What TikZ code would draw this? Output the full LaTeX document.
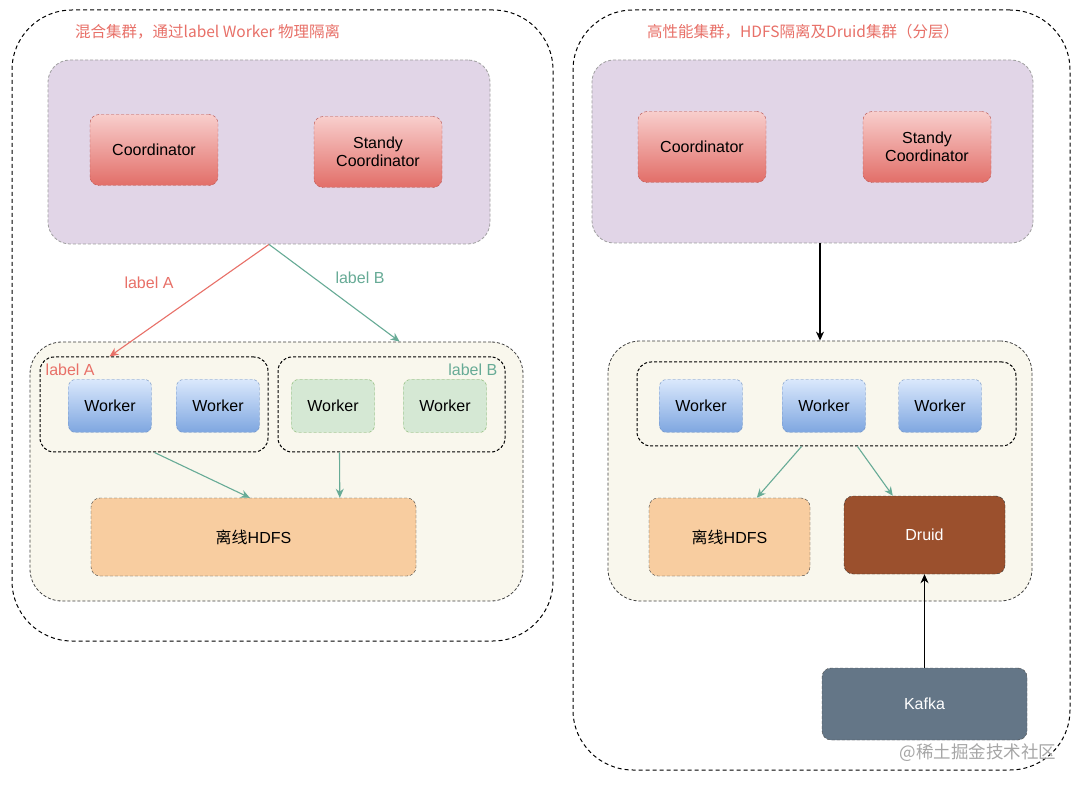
\documentclass[tikz,border=0pt]{standalone}
\usepackage{fontspec}
\setmainfont{Liberation Sans}
\newfontfamily\cjk{Noto Sans CJK SC}
\usepackage{tikz}
\usetikzlibrary{shapes, arrows, arrows.meta, calc, positioning}

\definecolor{titlered}{RGB}{232,112,104}
\definecolor{labelgreen}{RGB}{103,171,150}
\definecolor{purplefill}{RGB}{225,213,231}
\definecolor{containerfill}{RGB}{249,247,237}
\definecolor{coordtop}{RGB}{248,206,204}
\definecolor{coordbot}{RGB}{226,110,104}
\definecolor{coordline}{RGB}{184,84,80}
\definecolor{workertop}{RGB}{218,232,252}
\definecolor{workerbot}{RGB}{126,166,224}
\definecolor{workerline}{RGB}{108,142,191}
\definecolor{greenfill}{RGB}{213,232,212}
\definecolor{greenline}{RGB}{130,179,102}
\definecolor{hdfsfill}{RGB}{248,205,160}
\definecolor{druidfill}{RGB}{155,80,45}
\definecolor{kafkafill}{RGB}{100,118,135}

\begin{document}
\begin{tikzpicture}[x=1pt, y=-1pt, >={Stealth[length=9pt, width=8pt]}, font=\fontsize{16}{18.5}\selectfont]
	\tikzstyle{outer} = [draw, line width=1pt, dash pattern=on 4pt off 3pt, rounded corners=60pt, inner sep=0pt]
	\tikzstyle{panel} = [draw=gray!75, fill=purplefill, line width=0.8pt, dash pattern=on 3pt off 2pt, rounded corners=22pt, inner sep=0pt]
	\tikzstyle{container} = [draw=black!75, fill=containerfill, line width=0.8pt, dash pattern=on 3pt off 2pt, rounded corners=32pt, inner sep=0pt]
	\tikzstyle{group} = [draw, line width=1pt, dash pattern=on 3pt off 2pt, rounded corners=14pt, inner sep=0pt]
	\tikzstyle{coord} = [draw=coordline, top color=coordtop, bottom color=coordbot, dash pattern=on 3pt off 2pt, rounded corners=9pt, minimum width=128pt, minimum height=71pt, align=center, inner sep=2pt]
	\tikzstyle{worker} = [draw=workerline, top color=workertop, bottom color=workerbot, dash pattern=on 3pt off 2pt, rounded corners=7pt, minimum width=83pt, minimum height=53pt, inner sep=2pt]
	\tikzstyle{workerb} = [worker, draw=greenline, fill=greenfill, top color=greenfill, bottom color=greenfill]
	\tikzstyle{store} = [draw=black!75, dash pattern=on 3pt off 2pt, rounded corners=9pt, inner sep=2pt]
	\tikzstyle{title} = [text=titlered, anchor=west, inner sep=0pt, font=\cjk\fontsize{15.5}{18}\selectfont]

	\useasboundingbox[fill=white] (0,0) rectangle (1080,786);

	% left cluster
	\node[outer, minimum width=541pt, minimum height=631pt] (ol) at (282.5,325.5) {};
	\node[title] (tl) at (75,32) {混合集群，通过label Worker 物理隔离};
	\node[panel, minimum width=442pt, minimum height=184pt] (pl) at (269,152) {};
	\node[coord] (cl) at (154,150) {Coordinator};
	\node[coord] (sl) at (378,152) {Standy\\Coordinator};

	\node[container, minimum width=493pt, minimum height=259pt] (kl) at (276.5,471.5) {};
	\node[group, minimum width=228pt, minimum height=95pt] (ga) at (154,404.5) {};
	\node[group, minimum width=227pt, minimum height=95pt] (gb) at (391.5,404.5) {};
	\node[text=titlered, anchor=west, inner sep=0pt] (la) at ([xshift=6pt, yshift=-13pt]ga.north west) {label A};
	\node[text=labelgreen, anchor=east, inner sep=0pt] (lb) at ([xshift=-8pt, yshift=-13pt]gb.north east) {label B};
	\node[worker] (wa1) at (110,406) {Worker};
	\node[worker] (wa2) at (218,406) {Worker};
	\node[workerb] (wb1) at (333,406) {Worker};
	\node[workerb] (wb2) at (445,406) {Worker};
	\node[store, fill=hdfsfill, minimum width=325pt, minimum height=78pt] (hl) at (253.5,537) {{\cjk 离线}HDFS};

	\draw[->, titlered, line width=1.1pt] (pl.south) -- ([xshift=70pt]ga.north west);
	\draw[->, labelgreen, line width=1.1pt] (pl.south) -- ([xshift=370pt]kl.north west);
	\node[text=titlered] (ea) at (149,283) {label A};
	\node[text=labelgreen] (eb) at (360,278) {label B};
	\draw[->, labelgreen, line width=1.1pt] ([xshift=115pt]ga.south west) -- ([xshift=159pt]hl.north west);
	\draw[->, labelgreen, line width=1.1pt] ([xshift=62pt]gb.south west) -- ([xshift=249pt]hl.north west);

	% right cluster
	\node[outer, minimum width=497pt, minimum height=760pt] (or) at (821.5,390) {};
	\node[title] (tr) at (647,32) {高性能集群，HDFS隔离及Druid集群（分层）};
	\node[panel, minimum width=441pt, minimum height=183pt] (pr) at (812.5,151.5) {};
	\node[coord] (cr) at (702,147) {Coordinator};
	\node[coord] (sr) at (927,147) {Standy\\Coordinator};

	\node[container, minimum width=424pt, minimum height=260pt] (kr) at (820,471) {};
	\node[group, minimum width=379pt, minimum height=84pt] (gr) at (826.5,404) {};
	\node[worker] (wr1) at (701,406) {Worker};
	\node[worker] (wr2) at (824,406) {Worker};
	\node[worker] (wr3) at (940,406) {Worker};
	\node[store, fill=hdfsfill, minimum width=161pt, minimum height=78pt] (hr) at (729.5,537) {{\cjk 离线}HDFS};
	\node[store, draw=black!80, fill=druidfill, text=white, minimum width=161pt, minimum height=78pt] (dr) at (924.5,535) {Druid};
	\node[store, draw=black!70, fill=kafkafill, text=white, minimum width=205pt, minimum height=72pt] (kf) at (924.5,704) {Kafka};

	\draw[->, line width=1.1pt] (pr.south -| kr.north) -- (kr.north);
	\draw[->, labelgreen, line width=1.1pt] ([xshift=165pt]gr.south west) -- ([xshift=108pt]hr.north west);
	\draw[->, labelgreen, line width=1.1pt] ([xshift=221pt]gr.south west) -- ([xshift=49pt]dr.north west);
	\draw[->, line width=1.1pt] (kf.north) -- (dr.south);

	\node[text=gray!70, font=\cjk\fontsize{17.5}{20}\selectfont] (wm) at (978,753) {@稀土掘金技术社区};
\end{tikzpicture}
\end{document}
